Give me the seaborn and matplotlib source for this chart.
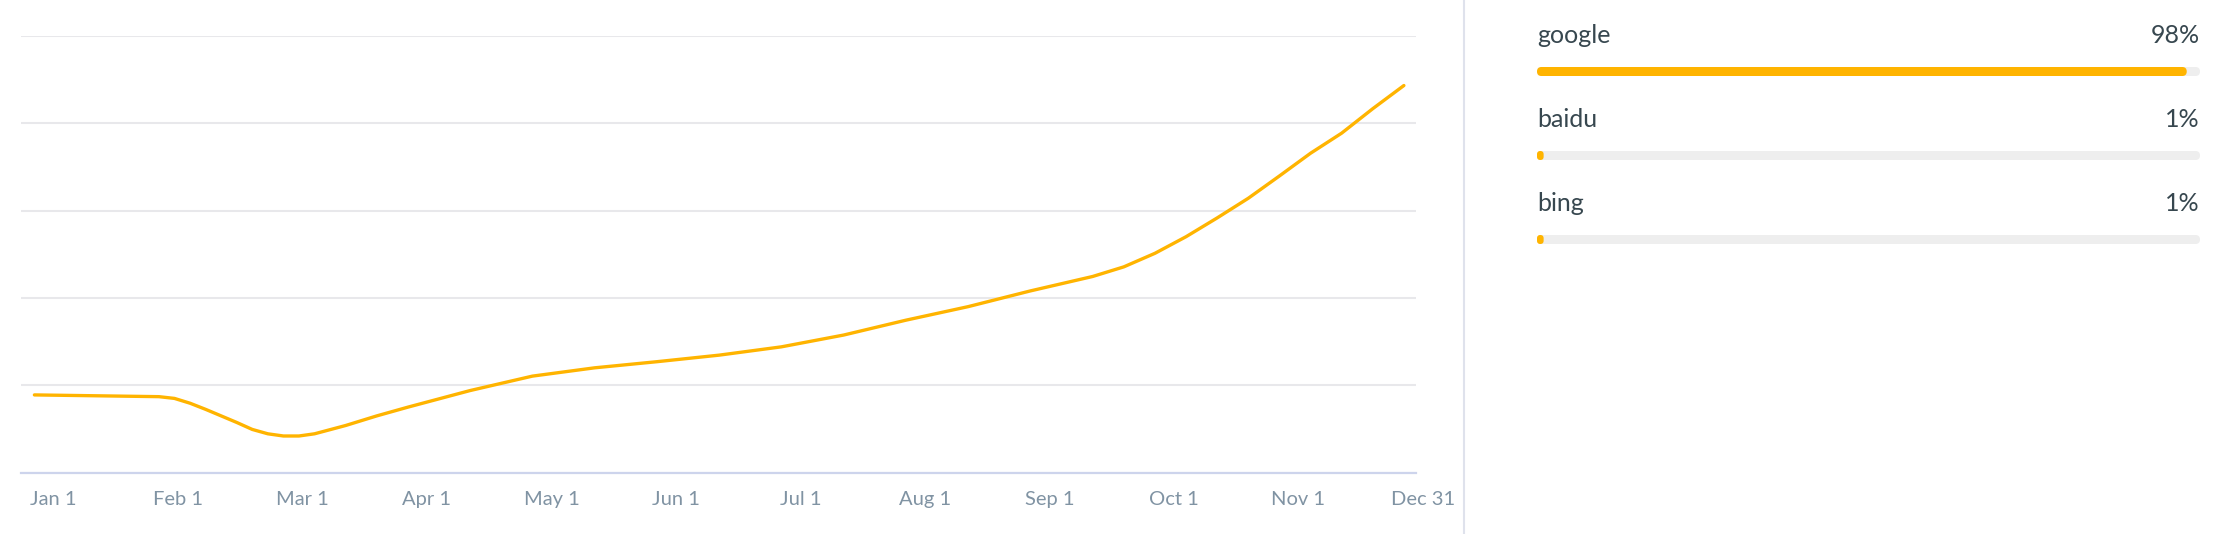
import matplotlib
matplotlib.use("Agg")
import matplotlib.pyplot as plt
import matplotlib.transforms as mtransforms
from matplotlib.lines import Line2D
from matplotlib.patches import FancyBboxPatch
import seaborn as sns

# Data
month_pos = [0, 0.25, 0.5, 0.75, 1, 1.125, 1.25, 1.375, 1.5, 1.625, 1.75, 1.875,
             2, 2.125, 2.25, 2.5, 2.75, 3, 3.5, 4, 4.5, 5, 5.5, 6, 6.5, 7, 7.5,
             8, 8.5, 8.75, 9, 9.25, 9.5, 9.75, 10, 10.25, 10.5, 10.75, 11]
traffic = [17.8, 17.7, 17.6, 17.5, 17.4, 17.0, 15.9, 14.5, 13.0, 11.5, 9.9, 8.9,
           8.4, 8.4, 8.9, 10.8, 13.0, 15.0, 18.8, 22.1, 24.0, 25.4, 26.9, 28.8,
           31.5, 34.9, 38.0, 41.6, 44.9, 47.1, 50.2, 54.0, 58.3, 62.8, 67.9,
           73.1, 77.7, 83.3, 88.6]
tick_labels = ["Jan 1", "Feb 1", "Mar 1", "Apr 1", "May 1", "Jun 1",
               "Jul 1", "Aug 1", "Sep 1", "Oct 1", "Nov 1", "Dec 31"]
engines = ["google", "baidu", "bing"]
shares = [98, 1, 1]

ORANGE = "#ffb400"
TEXT = "#37474f"
TICK = "#8093a3"

sns.set_style("white")
plt.rcParams["font.family"] = ["Lato", "DejaVu Sans"]

W, H = 2218, 534
fig = plt.figure(figsize=(W / 100, H / 100), dpi=100)

# --- line chart ---
ax = fig.add_axes([21 / W, (H - 472.7) / H, (1416 - 21) / W, (472.7 - 35.7) / H])
sns.lineplot(x=month_pos, y=traffic, color=ORANGE, linewidth=2.4, ax=ax)

px_month = 124.5
ax.set_xlim(-(34.4 - 21) / px_month, (1416 - 34.4) / px_month)
ax.set_ylim(0, 100)
ax.set_yticks([0, 20, 40, 60, 80, 100])
ax.set_yticklabels([])
ax.yaxis.grid(True, color="#e8e8eb", linewidth=1.5)
ax.set_axisbelow(True)
ax.set_xticks(range(len(tick_labels)))
ax.set_xticklabels(tick_labels, fontsize=14.5, color=TICK)
ax.tick_params(axis="both", length=0)
ax.tick_params(axis="x", pad=13)
for s in ["top", "left", "right"]:
    ax.spines[s].set_visible(False)
ax.spines["bottom"].set_color("#cdd4ec")
ax.spines["bottom"].set_linewidth(1.6)

shift = mtransforms.ScaledTranslation(0.19, 0, fig.dpi_scale_trans)
for lab in ax.get_xticklabels():
    lab.set_transform(lab.get_transform() + shift)

# divider
fig.add_artist(Line2D([1464 / W, 1464 / W], [0, 1], transform=fig.transFigure,
                      color="#dfe2ec", linewidth=1.5))

# --- share bars ---
bx = fig.add_axes([1537 / W, 0, 663 / W, 1])
row_px = 84
bar_h = 9 / row_px
sns.barplot(x=[100] * len(engines), y=engines, orient="h", color="#eeeeee",
            saturation=1, width=bar_h, ax=bx)
sns.barplot(x=shares, y=engines, orient="h", color=ORANGE,
            saturation=1, width=bar_h, ax=bx)
bx.set_xlim(0, 100)
bx.set_ylim((H - 71.5) / row_px, -71.5 / row_px)
bx.axis("off")

# round off the bar ends
px_x = 663 / 100
px_y = row_px
for p in list(bx.patches):
    x, y, w, h = p.get_x(), p.get_y(), p.get_width(), p.get_height()
    r_px = min(w * px_x, abs(h) * px_y) / 2
    rp = FancyBboxPatch((x, y), w, h,
                        boxstyle=f"round,pad=0,rounding_size={r_px / px_x}",
                        mutation_aspect=px_x / px_y,
                        facecolor=p.get_facecolor(), edgecolor="none",
                        zorder=p.get_zorder())
    p.remove()
    bx.add_patch(rp)

for i, (name, val) in enumerate(zip(engines, shares)):
    bx.text(0, i - 0.335, name, ha="left", va="baseline", fontsize=18, color=TEXT)
    bx.text(100, i - 0.335, f"{val}%", ha="right", va="baseline", fontsize=18, color=TEXT)

fig.savefig("out.png", dpi=100)
